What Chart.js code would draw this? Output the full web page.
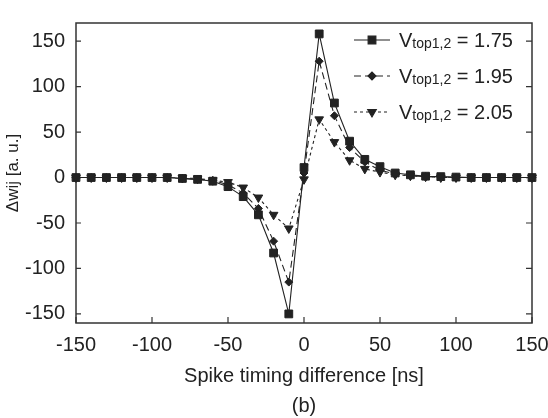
<!DOCTYPE html>
<html>
<head>
<meta charset="utf-8">
<script src="https://cdn.jsdelivr.net/npm/chart.js@4.4.0/dist/chart.umd.min.js"></script>
<style>
  body { margin: 0; background: #fff; }
  canvas { display: block; }
</style>
</head>
<body>
<canvas id="stdpChart" width="548" height="418"></canvas>
<script>
const timingDiff = [-150, -140, -130, -120, -110, -100, -90, -80, -70, -60, -50, -40, -30, -20, -10,
  0, 10, 20, 30, 40, 50, 60, 70, 80, 90, 100, 110, 120, 130, 140, 150];
const dw175 = [0, 0, 0, 0, 0, 0, 0, -1, -2, -4, -10, -21, -41, -83, -150,
  11, 158, 82, 40, 20, 12, 5, 3, 1.5, 1, 0.5, 0, 0, 0, 0, 0];
const dw195 = [0, 0, 0, 0, 0, 0, 0, -1, -2, -3, -8, -17, -34, -70, -115,
  5, 128, 68, 33, 17, 8, 4, 2, 1, 0.5, 0, 0, 0, 0, 0, 0];
const dw205 = [0, 0, 0, 0, 0, 0, 0, -0.5, -1, -3, -5, -11, -22, -41, -56,
  -2, 64, 39, 19, 9.5, 6, 3, 2, 1, 0, 0, 0, 0, 0, 0, 0];
const vtopValues = ['1.75', '1.95', '2.05'];
const xTicks = [-150, -100, -50, 0, 50, 100, 150];
const yTicks = [-150, -100, -50, 0, 50, 100, 150];

const ink = '#222';
const fontFamily = '"Liberation Sans", Arial, sans-serif';

function toPoints(values) {
  return values.map((v, i) => ({ x: timingDiff[i], y: v }));
}

// marco con marcas hacia dentro
const framePlugin = {
  id: 'frame',
  beforeDatasetsDraw(chart) {
    const { ctx, chartArea: a, scales } = chart;
    ctx.save();
    ctx.strokeStyle = '#333';
    ctx.lineWidth = 1.5;
    ctx.strokeRect(a.left, a.top, a.right - a.left, a.bottom - a.top);
    ctx.lineWidth = 1.2;
    ctx.beginPath();
    xTicks.forEach(v => {
      const px = scales.x.getPixelForValue(v);
      ctx.moveTo(px, a.bottom);
      ctx.lineTo(px, a.bottom - 6);
    });
    yTicks.forEach(v => {
      const py = scales.y.getPixelForValue(v);
      ctx.moveTo(a.left, py);
      ctx.lineTo(a.left + 5, py);
      ctx.moveTo(a.right, py);
      ctx.lineTo(a.right - 6, py);
    });
    ctx.stroke();
    ctx.restore();
  },
  // leyenda con subíndice
  afterDatasetsDraw(chart) {
    const { ctx, chartArea: a } = chart;
    chart.data.datasets.forEach((ds, i) => {
      const y = a.top + 17 + i * 36;
      const x0 = a.right - 178;
      ctx.save();
      ctx.strokeStyle = ink;
      ctx.fillStyle = ink;
      ctx.lineWidth = 1.1;
      ctx.setLineDash(ds.borderDash || []);
      ctx.beginPath();
      ctx.moveTo(x0, y);
      ctx.lineTo(x0 + 36, y);
      ctx.stroke();
      ctx.setLineDash([]);
      Chart.helpers.drawPoint(ctx, {
        pointStyle: ds.pointStyle,
        rotation: ds.pointRotation || 0,
        radius: ds.pointRadius,
        borderWidth: 1
      }, x0 + 18, y);

      let tx = x0 + 45;
      const base = y + 7;
      ctx.textBaseline = 'alphabetic';
      ctx.font = '20px ' + fontFamily;
      ctx.fillText('V', tx, base);
      tx += ctx.measureText('V').width;
      ctx.font = '14px ' + fontFamily;
      ctx.fillText('top1,2', tx, base + 1);
      tx += ctx.measureText('top1,2').width;
      ctx.font = '20px ' + fontFamily;
      ctx.fillText(' = ' + vtopValues[i], tx, base);
      ctx.restore();
    });
  }
};

function renderStdpChart() {
  const ctx = document.getElementById('stdpChart').getContext('2d');
  new Chart(ctx, {
    type: 'line',
    data: {
      datasets: [{
        label: 'Vtop1,2 = ' + vtopValues[0],
        data: toPoints(dw175),
        borderColor: ink,
        backgroundColor: ink,
        borderWidth: 1.1,
        pointStyle: 'rect',
        pointRadius: 5.5,
        pointBorderWidth: 1,
        clip: 10
      }, {
        label: 'Vtop1,2 = ' + vtopValues[1],
        data: toPoints(dw195),
        borderColor: ink,
        backgroundColor: ink,
        borderWidth: 1.1,
        borderDash: [7, 4],
        pointStyle: 'rectRot',
        pointRadius: 4,
        pointBorderWidth: 1,
        clip: 10
      }, {
        label: 'Vtop1,2 = ' + vtopValues[2],
        data: toPoints(dw205),
        borderColor: ink,
        backgroundColor: ink,
        borderWidth: 1.1,
        borderDash: [3, 3],
        pointStyle: 'triangle',
        pointRotation: 180,
        pointRadius: 5,
        pointBorderWidth: 1,
        clip: 10
      }]
    },
    options: {
      responsive: false,
      animation: false,
      layout: { padding: { top: 10, right: 16, left: 0, bottom: 0 } },
      plugins: {
        legend: { display: false },
        tooltip: { enabled: false }
      },
      elements: { line: { tension: 0 } },
      scales: {
        x: {
          type: 'linear',
          min: -150,
          max: 150,
          afterBuildTicks: s => { s.ticks = xTicks.map(v => ({ value: v })); },
          afterFit: s => { s.height = 95; s.paddingLeft = 0; s.paddingRight = 0; },
          grid: { display: false, drawTicks: false },
          border: { display: false },
          ticks: {
            color: ink,
            padding: 10,
            maxRotation: 0,
            autoSkip: false,
            font: { family: fontFamily, size: 20 }
          },
          title: {
            display: true,
            text: ['Spike timing difference [ns]', '(b)'],
            color: ink,
            padding: { top: 0, bottom: -3 },
            font: { family: fontFamily, size: 20, lineHeight: 1.5 }
          }
        },
        y: {
          type: 'linear',
          min: -160,
          max: 170,
          afterBuildTicks: s => { s.ticks = yTicks.map(v => ({ value: v })); },
          afterFit: s => { s.width = 76; },
          grid: { display: false, drawTicks: false },
          border: { display: false },
          ticks: {
            color: ink,
            padding: 11,
            font: { family: fontFamily, size: 20 }
          },
          title: {
            display: true,
            text: 'Δwij [a. u.]',
            color: ink,
            padding: { top: 3, bottom: 0 },
            font: { family: fontFamily, size: 17 }
          }
        }
      }
    },
    plugins: [framePlugin]
  });
}

document.addEventListener('DOMContentLoaded', () => {
  renderStdpChart();
});
</script>
</body>
</html>
